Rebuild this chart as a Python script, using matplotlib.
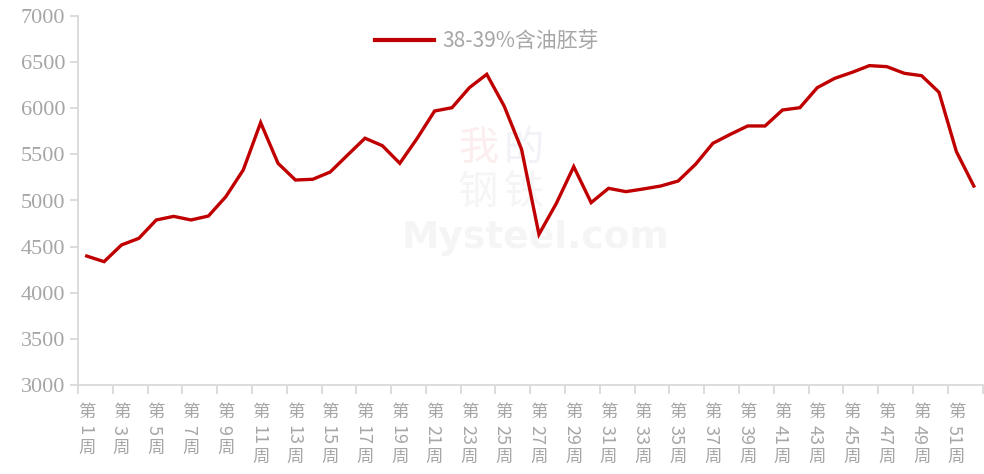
import matplotlib
matplotlib.use("Agg")
import matplotlib.pyplot as plt
from matplotlib.transforms import blended_transform_factory

plt.rcParams['font.family'] = ['Noto Sans CJK SC', 'DejaVu Sans']

weeks = list(range(1, 53))
values = [4398, 4337, 4518, 4590, 4789, 4828, 4789, 4832, 5042, 5331,
          5844, 5403, 5222, 5230, 5309, 5493, 5675, 5594, 5403, 5674,
          5970, 6006, 6223, 6368, 6024, 5555, 4633, 4969, 5367, 4977,
          5132, 5096, 5125, 5157, 5211, 5392, 5620, 5717, 5808, 5808,
          5981, 6006, 6223, 6324, 6389, 6462, 6451, 6379, 6353, 6173,
          5529, 5157]
series_name = "38-39%含油胚芽"
label_weeks = list(range(1, 52, 2))
yticks = [3000, 3500, 4000, 4500, 5000, 5500, 6000, 6500, 7000]

W, H = 984, 474
fig = plt.figure(figsize=(W / 100, H / 100), dpi=100)
ax = fig.add_axes([78 / W, 1 - 385 / H, (982.5 - 78) / W, (385 - 16) / H])

gray_txt = '#A6A6A6'
spine_c = '#D9D9D9'

# watermark (drawn beneath the line)
ax.text(535 / W, 1 - 238 / H, "Mysteel.com", ha='center', va='center',
        fontsize=27, fontweight='bold', color='#F5F5F5', zorder=0,
        family=['DejaVu Sans'], transform=fig.transFigure)
for ch, (px, py), c in [("我", (478, 148), '#FCEEEE'), ("的", (524, 148), '#F1F2F7'),
                        ("钢", (478, 192), '#F5F5F5'), ("铁", (524, 192), '#F5F5F5')]:
    ax.text(px / W, 1 - py / H, ch, ha='center', va='center', fontsize=29,
            color=c, zorder=0, transform=fig.transFigure)

line, = ax.plot(weeks, values, color='#C00000', linewidth=2.4,
                solid_joinstyle='miter', label=series_name, zorder=3)

ax.set_xlim(0.5, 52.5)
ax.set_ylim(3000, 7000)
ax.set_yticks(yticks)
ax.set_yticklabels([str(v) for v in yticks], family=['Liberation Serif'],
                   fontsize=16, color=gray_txt)
ax.set_xticks([w - 0.5 for w in range(1, 54, 2)])
ax.set_xticklabels([])

for s in ['top', 'right']:
    ax.spines[s].set_visible(False)
for s in ['left', 'bottom']:
    ax.spines[s].set_color(spine_c)
    ax.spines[s].set_linewidth(1.3)
ax.tick_params(axis='y', direction='out', length=6, width=1.3, color=spine_c, pad=3)
ax.tick_params(axis='x', direction='out', length=6.5, width=1.3, color=spine_c)

# stacked vertical tick labels (第 / rotated digits / 周)
trans = blended_transform_factory(ax.transData, ax.transAxes)
px2pt = 0.72
for w in label_weeks:
    s = str(w)
    n = len(s)
    d_top = 27
    d_mid = 45 if n == 1 else 50
    d_bot = 63 if n == 1 else 72
    ax.annotate("第", xy=(w, 0), xycoords=trans, xytext=(0, -d_top * px2pt),
                textcoords='offset points', ha='center', va='center',
                fontsize=12.5, color=gray_txt, annotation_clip=False)
    ax.annotate(s, xy=(w, 0), xycoords=trans, xytext=(-2.5 * px2pt, -d_mid * px2pt),
                textcoords='offset points', ha='center', va='center',
                fontsize=13, color=gray_txt, rotation=-90, annotation_clip=False)
    ax.annotate("周", xy=(w, 0), xycoords=trans, xytext=(0, -d_bot * px2pt),
                textcoords='offset points', ha='center', va='center',
                fontsize=12.5, color=gray_txt, annotation_clip=False)

leg = fig.legend(handles=[line], loc='center', bbox_to_anchor=(487 / W, 1 - 41 / H),
                 frameon=False, fontsize=15, handlelength=2.8, handletextpad=0.4,
                 labelcolor=gray_txt)
leg.get_lines()[0].set_linewidth(3)

fig.savefig("out.png", dpi=100)
